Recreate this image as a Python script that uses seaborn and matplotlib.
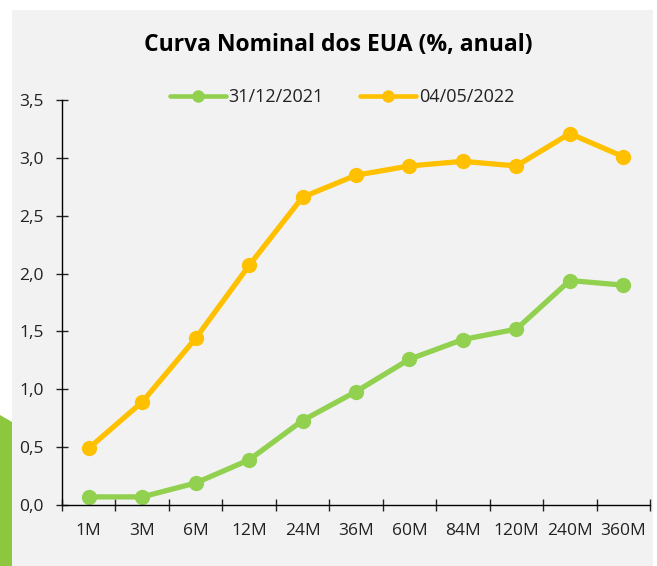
import pandas as pd
import matplotlib.pyplot as plt
import seaborn as sns
from matplotlib.patches import Rectangle, Polygon
from matplotlib.ticker import FixedLocator, FuncFormatter


############### Data
maturities = ["1M", "3M", "6M", "12M", "24M", "36M", "60M", "84M", "120M", "240M", "360M"]
curve_2021 = [0.07, 0.07, 0.19, 0.39, 0.73, 0.98, 1.26, 1.43, 1.52, 1.94, 1.90]
curve_2022 = [0.49, 0.89, 1.44, 2.07, 2.66, 2.85, 2.93, 2.97, 2.93, 3.21, 3.01]
series_labels = ["31/12/2021", "04/05/2022"]
series_colors = ["#92D050", "#FFC000"]
title = "Curva Nominal dos EUA (%, anual)"

df = pd.concat([
    pd.DataFrame({"prazo": maturities, "taxa": curve_2021, "data": series_labels[0]}),
    pd.DataFrame({"prazo": maturities, "taxa": curve_2022, "data": series_labels[1]}),
])

sns.set_style("white")
plt.rcParams["font.family"] = ["Open Sans", "DejaVu Sans"]

W, H = 657, 566
fig = plt.figure(figsize=(W / 100, H / 100), dpi=100)
fig.patch.set_facecolor("white")

# grey panel and the green strip on the left edge
fig.patches.append(Rectangle((12 / W, 0), (653 - 12) / W, 1 - 10 / H,
                             transform=fig.transFigure, facecolor="#F2F2F2",
                             edgecolor="none", zorder=-2))
fig.patches.append(Polygon([(0, 1 - 415 / H), (12 / W, 1 - 422 / H), (12 / W, 0), (0, 0)],
                           closed=True, transform=fig.transFigure,
                           facecolor="#8DC63F", edgecolor="none", zorder=-1))

ax = fig.add_axes([62 / W, 1 - 505 / H, (650 - 62) / W, (505 - 100) / H])
ax.set_facecolor("none")
ax.set_zorder(2)

sns.lineplot(data=df, x="prazo", y="taxa", hue="data", hue_order=series_labels,
             palette=series_colors, marker="o", markersize=11, markeredgewidth=0,
             linewidth=3.8, sort=False, ax=ax, clip_on=False)

ax.set_xlim(-0.5, len(maturities) - 0.5)
ax.set_ylim(0, 3.5)
ax.set_yticks([0, 0.5, 1.0, 1.5, 2.0, 2.5, 3.0, 3.5])
ax.yaxis.set_major_formatter(FuncFormatter(lambda v, p: f"{v:.1f}".replace(".", ",")))
ax.set_xticks(range(len(maturities)))
ax.set_xticklabels(maturities)
ax.xaxis.set_minor_locator(FixedLocator([i - 0.5 for i in range(len(maturities) + 1)]))

# seaborn's white style switches the tick marks off, turn them back on
ax.tick_params(axis="both", which="both", bottom=True, left=True)
ax.tick_params(axis="x", which="major", length=0, pad=13, labelsize=12.5, colors="#222222")
ax.tick_params(axis="x", which="minor", length=8, width=1, direction="inout", color="#222222")
ax.tick_params(axis="y", length=8, width=1, direction="inout", pad=9, labelsize=12.5,
               colors="#222222")

for side in ["top", "right"]:
    ax.spines[side].set_visible(False)
for side in ["left", "bottom"]:
    ax.spines[side].set_color("black")
    ax.spines[side].set_linewidth(1)

ax.set_xlabel("")
ax.set_ylabel("")

leg = ax.legend(loc="center", ncol=2, frameon=False, fontsize=13, handlelength=3.1,
                columnspacing=2.0, handletextpad=0.15, borderaxespad=0,
                bbox_to_anchor=(342 / W, 1 - 97 / H), bbox_transform=fig.transFigure)
for t in leg.get_texts():
    t.set_color("#222222")
for h in leg.legend_handles:
    h.set_markersize(9)
    h.set_linewidth(3.3)

fig.text(338 / W, 1 - 45 / H, title, ha="center", va="center",
         fontsize=16.5, fontweight="bold", color="black")

fig.savefig("out.png", dpi=100, facecolor=fig.get_facecolor())
